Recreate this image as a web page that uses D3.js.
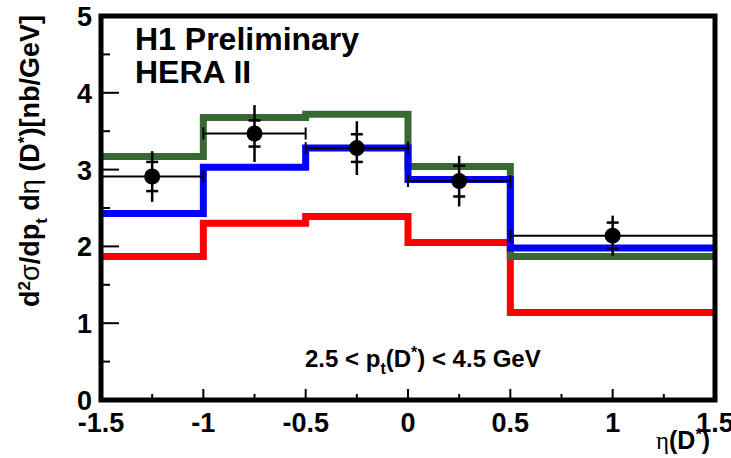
<!DOCTYPE html>
<html>
<head>
<meta charset="utf-8">
<script src="https://cdn.jsdelivr.net/npm/d3@7"></script>
<style>
  body { margin: 0; background: #fff; }
  text { font-family: "Liberation Sans", Arial, Helvetica, sans-serif; }
</style>
</head>
<body>
<div id="chart"></div>
<script>
// bin edges of eta(D*)
var binEdges = [-1.5, -1.0, -0.5, 0.0, 0.5, 1.5];

// theory curves, one value per bin
var greenValues = [3.17, 3.68, 3.72, 3.04, 1.87];
var blueValues  = [2.43, 3.03, 3.28, 2.87, 1.98];
var redValues   = [1.87, 2.30, 2.39, 2.05, 1.14];

// data points
var dataEta   = [-1.25, -0.75, -0.25, 0.25, 1.0];
var dataValue = [2.91, 3.47, 3.28, 2.85, 2.14];
var dataStat  = [0.19, 0.17, 0.18, 0.20, 0.17];
var dataTotal = [0.33, 0.37, 0.35, 0.33, 0.26];

var xTicks = [-1.5, -1, -0.5, 0, 0.5, 1, 1.5];
var xTickLabels = ["-1.5", "-1", "-0.5", "0", "0.5", "1", "1.5"];
var yTicks = [0, 1, 2, 3, 4, 5];

var width = 731, height = 458;

var svg = d3.select("#chart").append("svg")
  .attr("width", width)
  .attr("height", height);

var x = d3.scaleLinear().domain([-1.5, 1.5]).range([101, 715]);
var y = d3.scaleLinear().domain([0, 5]).range([400, 16]);

// step line through bins
var stepPath = function(values){
  var pts = [];
  values.forEach(function(v, i){
    pts.push([binEdges[i], v]);
    pts.push([binEdges[i + 1], v]);
  });
  return d3.line()
    .x(function(d){ return x(d[0]); })
    .y(function(d){ return y(d[1]); })(pts);
};

var curves = [
  {values: redValues, color: "#ff0000"},
  {values: greenValues, color: "#386834"},
  {values: blueValues, color: "#0000ff"}
];

svg.selectAll("path.curve")
  .data(curves)
  .enter()
  .append("path")
  .attr("class", "curve")
  .attr("d", function(d){ return stepPath(d.values); })
  .attr("fill", "none")
  .attr("stroke", function(d){ return d.color; })
  .attr("stroke-width", 7)
  .attr("stroke-linejoin", "miter")
  .attr("stroke-linecap", "butt");

// data points with error bars
var points = dataEta.map(function(eta, i){
  return {eta: eta, lo: binEdges[i], hi: binEdges[i + 1], v: dataValue[i], stat: dataStat[i], tot: dataTotal[i]};
});

var pg = svg.selectAll("g.point")
  .data(points)
  .enter()
  .append("g")
  .attr("class", "point")
  .attr("stroke", "#000");

pg.append("line")
  .attr("x1", function(d){ return x(d.lo); })
  .attr("x2", function(d){ return x(d.hi); })
  .attr("y1", function(d){ return y(d.v); })
  .attr("y2", function(d){ return y(d.v); })
  .attr("stroke-width", 2);

[ "lo", "hi" ].forEach(function(k){
  pg.append("line")
    .attr("x1", function(d){ return x(d[k]); })
    .attr("x2", function(d){ return x(d[k]); })
    .attr("y1", function(d){ return y(d.v) - 6; })
    .attr("y2", function(d){ return y(d.v) + 6; })
    .attr("stroke-width", 2);
});

pg.append("line")
  .attr("x1", function(d){ return x(d.eta); })
  .attr("x2", function(d){ return x(d.eta); })
  .attr("y1", function(d){ return y(d.v + d.tot); })
  .attr("y2", function(d){ return y(d.v - d.tot); })
  .attr("stroke-width", 2.5);

[1, -1].forEach(function(s){
  pg.append("line")
    .attr("x1", function(d){ return x(d.eta) - 6; })
    .attr("x2", function(d){ return x(d.eta) + 6; })
    .attr("y1", function(d){ return y(d.v + s * d.stat); })
    .attr("y2", function(d){ return y(d.v + s * d.stat); })
    .attr("stroke-width", 2.5);
});

pg.append("circle")
  .attr("cx", function(d){ return x(d.eta); })
  .attr("cy", function(d){ return y(d.v); })
  .attr("r", 8)
  .attr("fill", "#000")
  .attr("stroke", "none");

// ticks
var xMinor = d3.range(-1.25, 1.5, 0.5);
svg.selectAll("line.xmaj").data(xTicks).enter().append("line")
  .attr("x1", function(d){ return x(d); }).attr("x2", function(d){ return x(d); })
  .attr("y1", y(0)).attr("y2", y(0) - 11)
  .attr("stroke", "#000").attr("stroke-width", 2);
svg.selectAll("line.xmin").data(xMinor).enter().append("line")
  .attr("x1", function(d){ return x(d); }).attr("x2", function(d){ return x(d); })
  .attr("y1", y(0)).attr("y2", y(0) - 6)
  .attr("stroke", "#000").attr("stroke-width", 2);

var yMinor = d3.range(0.5, 5, 1);
svg.selectAll("line.ymaj").data(yTicks).enter().append("line")
  .attr("x1", x(-1.5)).attr("x2", x(-1.5) + 18)
  .attr("y1", function(d){ return y(d); }).attr("y2", function(d){ return y(d); })
  .attr("stroke", "#000").attr("stroke-width", 2);
svg.selectAll("line.ymin").data(yMinor).enter().append("line")
  .attr("x1", x(-1.5)).attr("x2", x(-1.5) + 9)
  .attr("y1", function(d){ return y(d); }).attr("y2", function(d){ return y(d); })
  .attr("stroke", "#000").attr("stroke-width", 2);

// frame
svg.append("rect")
  .attr("x", x(-1.5)).attr("y", y(5))
  .attr("width", x(1.5) - x(-1.5)).attr("height", y(0) - y(5))
  .attr("fill", "none").attr("stroke", "#000").attr("stroke-width", 5);

// tick labels
svg.selectAll("text.xl").data(xTicks).enter().append("text")
  .attr("x", function(d){ return x(d); })
  .attr("y", 432)
  .attr("text-anchor", "middle")
  .style("font-size", "27px").style("font-weight", "bold")
  .text(function(d, i){ return xTickLabels[i]; });

svg.selectAll("text.yl").data(yTicks).enter().append("text")
  .attr("x", 92)
  .attr("y", function(d){ return y(d) + 10; })
  .attr("text-anchor", "end")
  .style("font-size", "27px").style("font-weight", "bold")
  .text(function(d){ return d; });

// annotations
svg.append("text").attr("x", 135).attr("y", 50)
  .style("font-size", "32px").style("font-weight", "bold")
  .text("H1 Preliminary");
svg.append("text").attr("x", 135).attr("y", 83)
  .style("font-size", "32px").style("font-weight", "bold")
  .text("HERA II");

var pt = svg.append("text").attr("x", 305).attr("y", 367)
  .style("font-size", "24px").style("font-weight", "bold");
pt.append("tspan").text("2.5 < p");
pt.append("tspan").attr("dy", 7).style("font-size", "16px").text("t");
pt.append("tspan").attr("dy", -7).text("(D");
pt.append("tspan").attr("dy", -9).style("font-size", "16px").text("*");
pt.append("tspan").attr("dy", 9).text(") < 4.5 GeV");

// x title
var xt = svg.append("text").attr("x", 710).attr("y", 449)
  .attr("text-anchor", "end")
  .style("font-size", "25px").style("font-weight", "bold");
xt.append("tspan").style("font-family", "Liberation Serif, serif").style("font-weight", "normal").text("η");
xt.append("tspan").text("(D");
xt.append("tspan").attr("dy", -9).style("font-size", "16px").text("*");
xt.append("tspan").attr("dy", 9).text(")");

// y title
var yt = svg.append("text")
  .attr("transform", "translate(39,15) rotate(-90)")
  .attr("text-anchor", "end")
  .style("font-size", "27px").style("font-weight", "bold");
yt.append("tspan").text("d");
yt.append("tspan").attr("dy", -9).style("font-size", "17px").text("2");
yt.append("tspan").attr("dy", 9).style("font-weight", "normal").text("σ");
yt.append("tspan").text("/dp");
yt.append("tspan").attr("dy", 8).style("font-size", "17px").text("t");
yt.append("tspan").attr("dy", -8).text(" d");
yt.append("tspan").style("font-weight", "normal").text("η");
yt.append("tspan").text(" (D");
yt.append("tspan").attr("dy", -9).style("font-size", "17px").text("*");
yt.append("tspan").attr("dy", 9).text(")[nb/GeV]");
</script>
</body>
</html>
